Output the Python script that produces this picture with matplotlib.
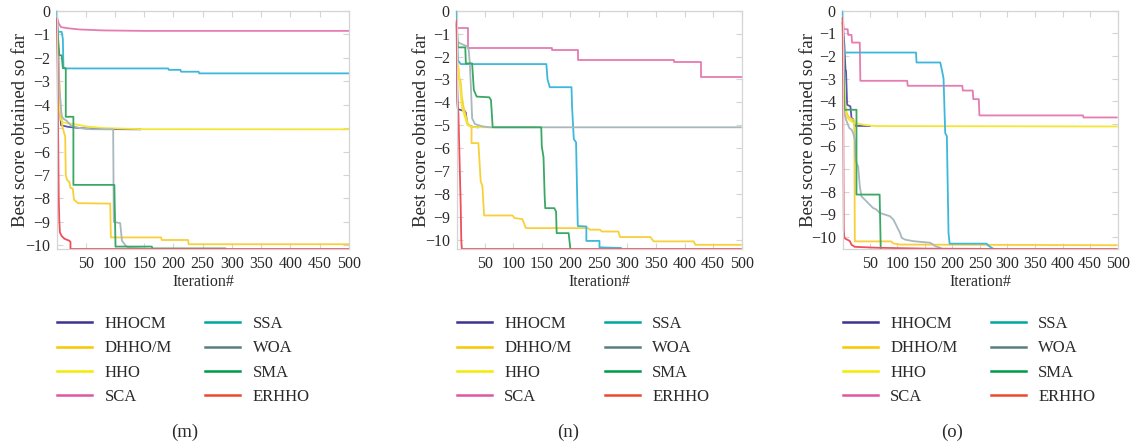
import matplotlib
matplotlib.use("Agg")
import matplotlib.pyplot as plt
from matplotlib.lines import Line2D

plt.rcParams['font.family'] = ['Liberation Serif', 'DejaVu Serif']

names = ["HHOCM", "DHHO/M", "HHO", "SCA", "SSA", "WOA", "SMA", "ERHHO"]
line_colors = ["#5a55b0", "#f9cf3a", "#f3e634", "#e57cb2", "#3db8dc", "#a8b8bc", "#3aa864", "#ef4f5c"]
legend_colors = ["#3d3290", "#f7c800", "#f4ea00", "#e0579e", "#00a69e", "#5b7e7e", "#00994c", "#ea4a2b"]
panel_tags = ["(m)", "(n)", "(o)"]
y_floor = [-10.1532, -10.4029, -10.5364]
x_ticks = [50, 100, 150, 200, 250, 300, 350, 400, 450, 500]
y_ticks = [0, -1, -2, -3, -4, -5, -6, -7, -8, -9, -10]

# (iteration, best score) break points
# ---- panel (m)
m_hhocm = [(1, -0.4), (3, -1.8), (4, -3.2), (6, -4.3), (8, -4.88), (20, -4.95), (40, -5.0), (70, -5.04), (145, -5.055)]
m_dhhom = [(1, -0.9), (4, -2.5), (7, -4.0), (10, -4.9), (13, -5.2), (15, -5.35), (16, -7.0), (18, -7.2), (22, -7.3),
           (24, -7.55), (28, -7.58), (30, -8.05), (37, -8.2), (92, -8.22), (93, -9.66), (179, -9.66), (180, -9.77),
           (225, -9.77), (226, -9.95), (500, -9.95)]
m_hho = [(1, -1.0), (3, -2.5), (5, -4.0), (7, -4.6), (10, -4.75), (20, -4.8), (35, -4.85), (50, -4.93), (80, -5.0),
         (150, -5.05), (500, -5.055)]
m_sca = [(1, -0.3), (4, -0.55), (8, -0.7), (20, -0.75), (40, -0.8), (80, -0.84), (150, -0.86), (500, -0.86)]
m_ssa = [(1, 0.0), (2, -0.9), (9, -0.9), (11, -1.2), (12, -2.4), (14, -2.46), (191, -2.46), (192, -2.52), (212, -2.52),
         (213, -2.6), (243, -2.6), (244, -2.67), (500, -2.67)]
m_woa = [(1, -0.5), (3, -1.5), (5, -3.3), (7, -3.9), (9, -4.5), (12, -4.6), (18, -4.7), (25, -4.9), (40, -5.0),
         (60, -5.05), (97, -5.055), (98, -9.0), (109, -9.05), (112, -9.8), (118, -10.0), (123, -10.1), (160, -10.15)]
m_sma = [(1, -0.5), (3, -1.2), (5, -1.9), (9, -1.9), (11, -2.45), (16, -2.45), (16, -4.52), (29, -4.52), (29, -7.42),
         (99, -7.42), (101, -10.05), (163, -10.05), (164, -10.13), (290, -10.13)]
m_erhho = [(1, -0.3), (2, -2.5), (3, -5.5), (4, -8.0), (5, -9.0), (6, -9.45), (9, -9.6), (14, -9.72), (22, -9.8),
           (24, -9.85), (24, -10.1532), (500, -10.1532)]

# ---- panel (n)
n_hhocm = [(1, -0.5), (2, -3.5), (3, -4.3), (15, -4.38), (17, -4.45), (19, -4.9), (22, -5.0), (30, -5.08), (40, -5.09)]
n_dhhom = [(1, -1.6), (5, -2.9), (8, -3.1), (10, -3.75), (13, -4.2), (16, -4.5), (20, -4.9), (24, -5.05), (27, -5.08),
           (27, -5.78), (39, -5.78), (43, -7.45), (46, -7.65), (49, -8.94), (99, -8.94), (102, -9.05), (116, -9.1),
           (122, -9.49), (231, -9.49), (234, -9.56), (252, -9.56), (255, -9.64), (284, -9.64), (287, -9.88),
           (340, -9.88), (346, -10.07), (416, -10.07), (419, -10.22), (500, -10.22)]
n_hho = [(1, -1.5), (3, -2.2), (6, -3.0), (10, -4.2), (15, -4.6), (20, -5.0), (30, -5.08), (60, -5.09)]
n_sca = [(1, -0.77), (20, -0.77), (20, -1.64), (168, -1.64), (168, -1.72), (214, -1.72), (214, -2.15), (382, -2.15),
         (382, -2.25), (428, -2.25), (428, -2.88), (500, -2.88)]
n_ssa = [(1, 0.0), (3, -2.2), (5, -2.22), (8, -2.33), (158, -2.33), (160, -3.0), (164, -3.34), (202, -3.34),
         (203, -4.2), (206, -5.6), (210, -5.75), (213, -9.4), (228, -9.42), (228, -10.05), (251, -10.05),
         (251, -10.33), (290, -10.36)]
n_woa = [(1, -1.35), (5, -1.4), (12, -1.48), (19, -1.55), (22, -1.7), (24, -2.3), (26, -3.4), (28, -4.7), (33, -4.95),
         (46, -5.05), (58, -5.09), (500, -5.09)]
n_sma = [(1, -0.6), (3, -1.6), (16, -1.6), (17, -2.3), (28, -2.3), (31, -3.46), (36, -3.75), (58, -3.78), (61, -3.9),
         (64, -5.09), (149, -5.09), (150, -5.93), (153, -6.4), (155, -8.1), (156, -8.62), (172, -8.62), (175, -8.77),
         (176, -9.71), (197, -9.71), (200, -10.4029)]
n_erhho = [(1, -0.4), (2, -4.0), (4, -4.5), (6, -6.5), (8, -8.5), (9, -10.0), (10, -10.4029), (500, -10.4029)]

# ---- panel (o)
o_hhocm = [(1, -0.5), (4, -1.5), (6, -2.62), (7, -2.65), (9, -4.16), (15, -4.23), (17, -4.75), (20, -4.8), (23, -5.09),
           (52, -5.1)]
o_dhhom = [(1, -0.5), (3, -2.5), (5, -4.0), (8, -4.5), (12, -4.7), (18, -4.8), (22, -4.85), (23, -10.2), (89, -10.2),
           (93, -10.29), (105, -10.34), (500, -10.37)]
o_hho = [(1, -0.8), (3, -2.5), (5, -4.4), (8, -4.7), (12, -4.8), (20, -4.95), (40, -5.05), (60, -5.1), (500, -5.12)]
o_sca = [(1, -0.3), (3, -0.82), (10, -0.82), (11, -1.07), (17, -1.07), (18, -1.41), (32, -1.41), (33, -3.1),
         (118, -3.1), (119, -3.32), (218, -3.32), (219, -3.53), (237, -3.53), (238, -3.91), (248, -3.91),
         (249, -4.63), (437, -4.63), (438, -4.72), (500, -4.72)]
o_ssa = [(1, 0.0), (2, -1.85), (134, -1.85), (135, -2.29), (178, -2.29), (181, -2.62), (184, -3.0), (187, -5.41),
         (190, -5.55), (193, -9.82), (195, -10.3), (262, -10.3), (266, -10.4), (275, -10.5364), (280, -10.5364)]
o_woa = [(1, -0.3), (3, -2.5), (4, -4.53), (7, -4.82), (13, -5.19), (17, -5.26), (20, -5.41), (23, -5.71), (24, -6.44),
         (26, -6.74), (29, -6.88), (32, -7.76), (35, -8.21), (41, -8.35), (47, -8.5), (56, -8.72), (62, -8.79),
         (68, -8.94), (77, -9.01), (87, -9.09), (93, -9.24), (96, -9.38), (102, -9.68), (105, -9.82), (108, -10.04),
         (114, -10.12), (129, -10.19), (160, -10.26), (169, -10.41), (180, -10.5)]
o_sma = [(1, -0.5), (3, -3.0), (4, -4.38), (26, -4.38), (26, -8.13), (68, -8.13), (69, -9.3), (70, -10.5364)]
o_erhho = [(1, -0.3), (2, -5.0), (3, -9.7), (4, -10.04), (7, -10.1), (10, -10.13), (14, -10.19), (17, -10.35),
           (23, -10.44), (60, -10.48), (150, -10.52), (300, -10.5364), (500, -10.5364)]

panels = [
    [m_hhocm, m_dhhom, m_hho, m_sca, m_ssa, m_woa, m_sma, m_erhho],
    [n_hhocm, n_dhhom, n_hho, n_sca, n_ssa, n_woa, n_sma, n_erhho],
    [o_hhocm, o_dhhom, o_hho, o_sca, o_ssa, o_woa, o_sma, o_erhho],
]

W, H = 1132, 445
fig = plt.figure(figsize=(W / 100, H / 100), dpi=100)

# axes boxes in pixels: left, right, top, bottom
boxes = [(57, 349, 10.7, 249), (456.7, 741.7, 10.7, 249), (842.7, 1117.7, 10.7, 249)]
tag_x = [185, 568, 952]

frame = "#d4d4d4"
txt = "#2a2a2a"
for k, (l, r, t, b) in enumerate(boxes):
    ax = fig.add_axes([l / W, 1 - b / H, (r - l) / W, (b - t) / H])
    for series, c in zip(panels[k], line_colors):
        xs = [p[0] for p in series]
        ys = [p[1] for p in series]
        ax.plot(xs, ys, color=c, lw=1.3, clip_on=False, solid_capstyle="butt")
    ax.set_xlim(1, 500)
    ax.set_ylim(y_floor[k], 0)
    ax.set_xticks(x_ticks)
    ax.set_yticks(y_ticks)
    ax.tick_params(direction="in", top=True, right=True, length=4, width=0.8, color=frame,
                   labelsize=11.5, labelcolor=txt, pad=5)
    for s in ax.spines.values():
        s.set_color(frame)
        s.set_linewidth(0.9)
    ax.set_xlabel("Iteration#", fontsize=11.5, color=txt)
    ax.set_ylabel("Best score obtained so far", fontsize=13.5, color=txt)
    ax.xaxis.set_label_coords(0.5, -0.105)
    ax.yaxis.set_label_coords(-0.095, 0.5)

    handles = [Line2D([], [], color=c, lw=1.8) for c in legend_colors]
    ax.legend(handles, names, loc="upper left", bbox_to_anchor=(l / W, 1 - 316 / H),
              bbox_transform=fig.transFigure, ncol=2, frameon=False, fontsize=12,
              handlelength=2.1, handletextpad=0.75, columnspacing=2.0, labelspacing=0.5,
              borderaxespad=0, borderpad=0, labelcolor=txt)
    fig.text(tag_x[k] / W, 1 - 432 / H, panel_tags[k], ha="center", va="center",
             fontsize=13.5, color=txt)

fig.savefig("out.png", dpi=100)
